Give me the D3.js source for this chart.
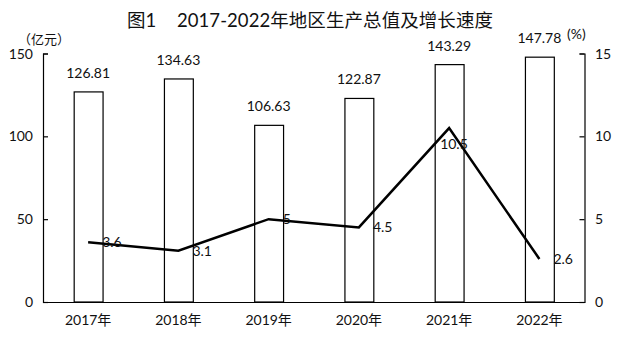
<!DOCTYPE html>
<html><head><meta charset="utf-8">
<script src="https://cdn.jsdelivr.net/npm/d3@7/dist/d3.min.js"></script>
<style>
body{margin:0;background:#fff;}
svg{display:block;font-family:Lato,"Noto Sans CJK SC",sans-serif;}
</style></head>
<body><svg id="c" width="621" height="343"></svg>
<script>
const categories = ["2017年","2018年","2019年","2020年","2021年","2022年"];
const gdpValues = [126.81,134.63,106.63,122.87,143.29,147.78];
const growthValues = [3.6,3.1,5,4.5,10.5,2.6];
const leftTicks = [0,50,100,150];
const rightTicks = [0,5,10,15];

const svg = d3.select("#c");
const L = 43, R = 584.5, T = 53.5, B = 302;
const x = d3.scaleBand().domain(categories).range([L,R]).paddingInner(0.68).paddingOuter(0.34);
const yL = d3.scaleLinear().domain([0,150]).range([B,T]);
const yR = d3.scaleLinear().domain([0,15]).range([B,T]);
const cx = d => x(d) + x.bandwidth()/2;
const col = "#111";

// title
const title = svg.append("text").attr("y",27).attr("font-size",18.5).attr("fill",col).attr("font-weight",400);
title.append("tspan").attr("x",127).text("图1");
title.append("tspan").attr("x",177).attr("textLength",316).attr("lengthAdjust","spacing").text("2017-2022年地区生产总值及增长速度");

// units
svg.append("text").attr("x",18).attr("y",44).attr("font-size",13).attr("fill",col).text("（亿元）");
svg.append("text").attr("x",567).attr("y",39).attr("font-size",14).attr("fill",col).text("(%)");

// bars
svg.selectAll("rect.bar").data(categories).join("rect")
  .attr("x",d=>x(d)+0.5).attr("width",x.bandwidth())
  .attr("y",(d,i)=>yL(gdpValues[i])).attr("height",(d,i)=>B-yL(gdpValues[i]))
  .attr("fill","#fff").attr("stroke","#000").attr("stroke-width",1.2);

svg.selectAll("text.bl").data(categories).join("text")
  .attr("x",d=>cx(d)).attr("y",(d,i)=>yL(gdpValues[i])-14)
  .attr("text-anchor","middle").attr("font-size",14).attr("fill",col)
  .text((d,i)=>gdpValues[i].toFixed(2));

// axes
const axL = svg.append("g").attr("transform",`translate(${L},0)`)
  .call(d3.axisRight(yL).tickValues(leftTicks).tickSize(5));
axL.selectAll("text").remove();
svg.selectAll("text.lt").data(leftTicks).join("text")
  .attr("x",33).attr("y",d=>yL(d)+5).attr("text-anchor","end").attr("font-size",14).attr("fill",col).text(d=>d);

const axR = svg.append("g").attr("transform",`translate(${R},0)`)
  .call(d3.axisLeft(yR).tickValues(rightTicks).tickSize(5));
axR.selectAll("text").remove();
svg.selectAll("text.rt").data(rightTicks).join("text")
  .attr("x",595).attr("y",d=>yR(d)+5).attr("text-anchor","start").attr("font-size",14).attr("fill",col).text(d=>d);

[axL,axR].forEach(a=>{a.select(".domain").attr("stroke","#000").attr("stroke-width",1.2);a.selectAll(".tick line").attr("stroke","#000").attr("stroke-width",1.2);});

const axB = svg.append("g").attr("transform",`translate(0,${B})`)
  .call(d3.axisBottom(x).tickSize(0).tickPadding(13));
axB.select(".domain").attr("stroke","#000").attr("stroke-width",1.2);
axB.selectAll("text").attr("font-size",14).attr("fill",col).attr("font-family",'Lato,"Noto Sans CJK SC",sans-serif');

// line
const line = d3.line().x(d=>cx(d.c)).y(d=>yR(d.v));
const pts = categories.map((c,i)=>({c,v:growthValues[i]}));
svg.append("path").datum(pts).attr("d",line).attr("fill","none").attr("stroke","#000").attr("stroke-width",2.5);

svg.selectAll("text.gl").data(pts).join("text")
  .attr("x",(d,i)=>cx(d.c)+(i===4?-9:14))
  .attr("y",(d,i)=>yR(d.v)+(i===4?21:5))
  .attr("font-size",14).attr("fill",col)
  .text(d=>d.v);
</script></body></html>
